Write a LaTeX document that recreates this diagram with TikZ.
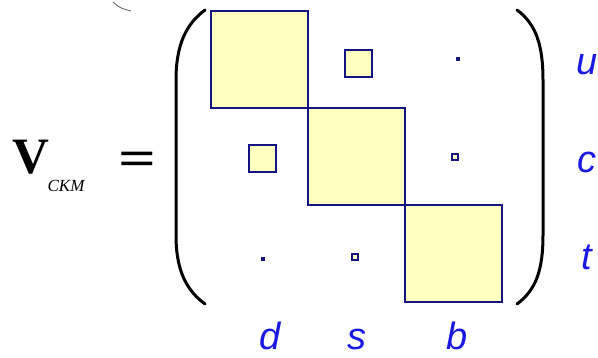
\documentclass[tikz,border=0pt]{standalone}
\usepackage{fontspec}
\usepackage{graphicx}
\setmainfont{Liberation Serif}
\newfontfamily\qfont{Liberation Sans}
\definecolor{elfill}{RGB}{255,255,192}
\definecolor{elline}{RGB}{20,20,130}
\definecolor{qblue}{RGB}{25,25,225}

\begin{document}
\begin{tikzpicture}[x=1pt, y=-1pt, el/.style={draw=elline, fill=elfill, line width=2pt, inner sep=0pt, minimum size=#1}, tiny/.style={draw=elline, fill=elline, inner sep=0pt, minimum size=3pt}, ql/.style={text=qblue, font=\qfont\itshape\fontsize{38}{40}\selectfont, inner sep=0pt, anchor=base}, paren/.style={line width=3pt, line cap=round}]
	\useasboundingbox (0,0) rectangle (598,358);
	% diagonal elements
	\node[el=97pt] (ud) at (259,60) {};
	\node[el=97pt] (cs) at (356.5,156.5) {};
	\node[el=97pt] (tb) at (453,254) {};
	% off-diagonal elements
	\node[el=27pt] (us) at (358,64) {};
	\node[el=27pt] (cd) at (262,159) {};
	\node[el=6pt, line width=1.4pt] (cb) at (455,157) {};
	\node[el=6pt, line width=1.4pt] (ts) at (355,257) {};
	\node[tiny] (ub) at (458,59) {};
	\node[tiny] (td) at (263,259) {};
	% brackets
	\draw[paren] (205,10) .. controls (186,24) and (176,45) .. (176,80) -- (176,235) .. controls (176,270) and (186,290) .. (205,304);
	\draw[paren] (517,10) .. controls (536,24) and (543,45) .. (543,80) -- (543,235) .. controls (543,270) and (536,290) .. (517,304);
	\draw[gray!70!black, line width=0.8pt] (113,2) .. controls (120,8) .. (131,11);
	% quark labels
	\foreach \q/\y in {u/75, c/173, t/270} {\node[ql] (row-\q) at (587,\y) {\q};}
	\foreach \q/\x in {d/270, s/357, b/457} {\node[ql] (col-\q) at (\x,350) {\q};}
	% name
	\node[inner sep=0pt, anchor=base, font=\bfseries\fontsize{51}{51}\selectfont] (vee) at (31,174) {V};
	\node[inner sep=0pt, anchor=base, font=\itshape\fontsize{17}{17}\selectfont] (ckm) at (66,192) {CKM};
	\node[inner sep=0pt, font=\bfseries\fontsize{50}{50}\selectfont] (eq) at (137,164) {\scalebox{1.33}[1]{=}};
\end{tikzpicture}
\end{document}
